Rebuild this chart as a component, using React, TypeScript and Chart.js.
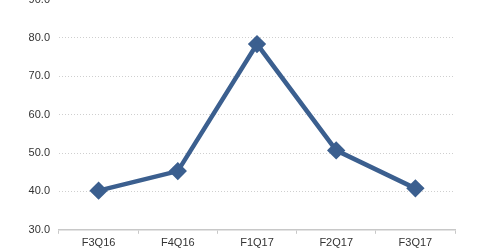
import React, { useEffect, useRef } from "react";
import { Chart, registerables } from "chart.js";

Chart.register(...registerables);

const categories = ["F3Q16", "F4Q16", "F1Q17", "F2Q17", "F3Q17"];
const values = [40.2, 45.3, 78.4, 50.7, 40.8];
const yMin = 30;
const yMax = 90;
const yStep = 10;

export default function App() {
  const ref = useRef<HTMLCanvasElement | null>(null);

  useEffect(() => {
    document.body.style.margin = "0";
    const ctx = ref.current!;
    const chart = new Chart(ctx, {
      type: "line",
      data: {
        labels: categories,
        datasets: [
          {
            data: values,
            borderColor: "#3b5f8f",
            backgroundColor: "#3b5f8f",
            borderWidth: 4.5,
            pointStyle: "rectRot",
            pointRadius: 6,
            pointHoverRadius: 6,
            tension: 0,
          },
        ],
      },
      options: {
        animation: false,
        responsive: false,
        maintainAspectRatio: false,
        plugins: { legend: { display: false }, tooltip: { enabled: false } },
        layout: { padding: { top: 6, right: 25, left: 0, bottom: 2 } },
        scales: {
          x: {
            type: "category",
            offset: true,
            grid: {
              offset: true,
              drawOnChartArea: false,
              drawTicks: true,
              tickLength: 4,
              color: "#c8c8c8",
            },
            border: { display: true, color: "#c8c8c8", width: 1.5 },
            ticks: {
              color: "#333333",
              font: { family: "Liberation Sans", size: 11 },
              padding: 3,
              maxRotation: 0,
            },
          },
          y: {
            min: yMin,
            max: yMax,
            afterFit: (scale: any) => {
              scale.width = 59;
            },
            grid: {
              color: "#cfcfcf",
              drawTicks: false,
            },
            border: { display: false, dash: [1, 2] },
            ticks: {
              stepSize: yStep,
              color: "#333333",
              font: { family: "Liberation Sans", size: 11 },
              padding: 9,
              callback: (v: any) => Number(v).toFixed(1),
            },
          },
        },
      },
    });
    return () => chart.destroy();
  }, []);

  return (
    <div style={{ position: "fixed", left: 0, top: 0, width: 480, height: 251, overflow: "hidden", background: "#fff" }}>
      <canvas ref={ref} width={480} height={271} style={{ position: "absolute", left: 0, top: -16, width: 480, height: 271 }} />
    </div>
  );
}
